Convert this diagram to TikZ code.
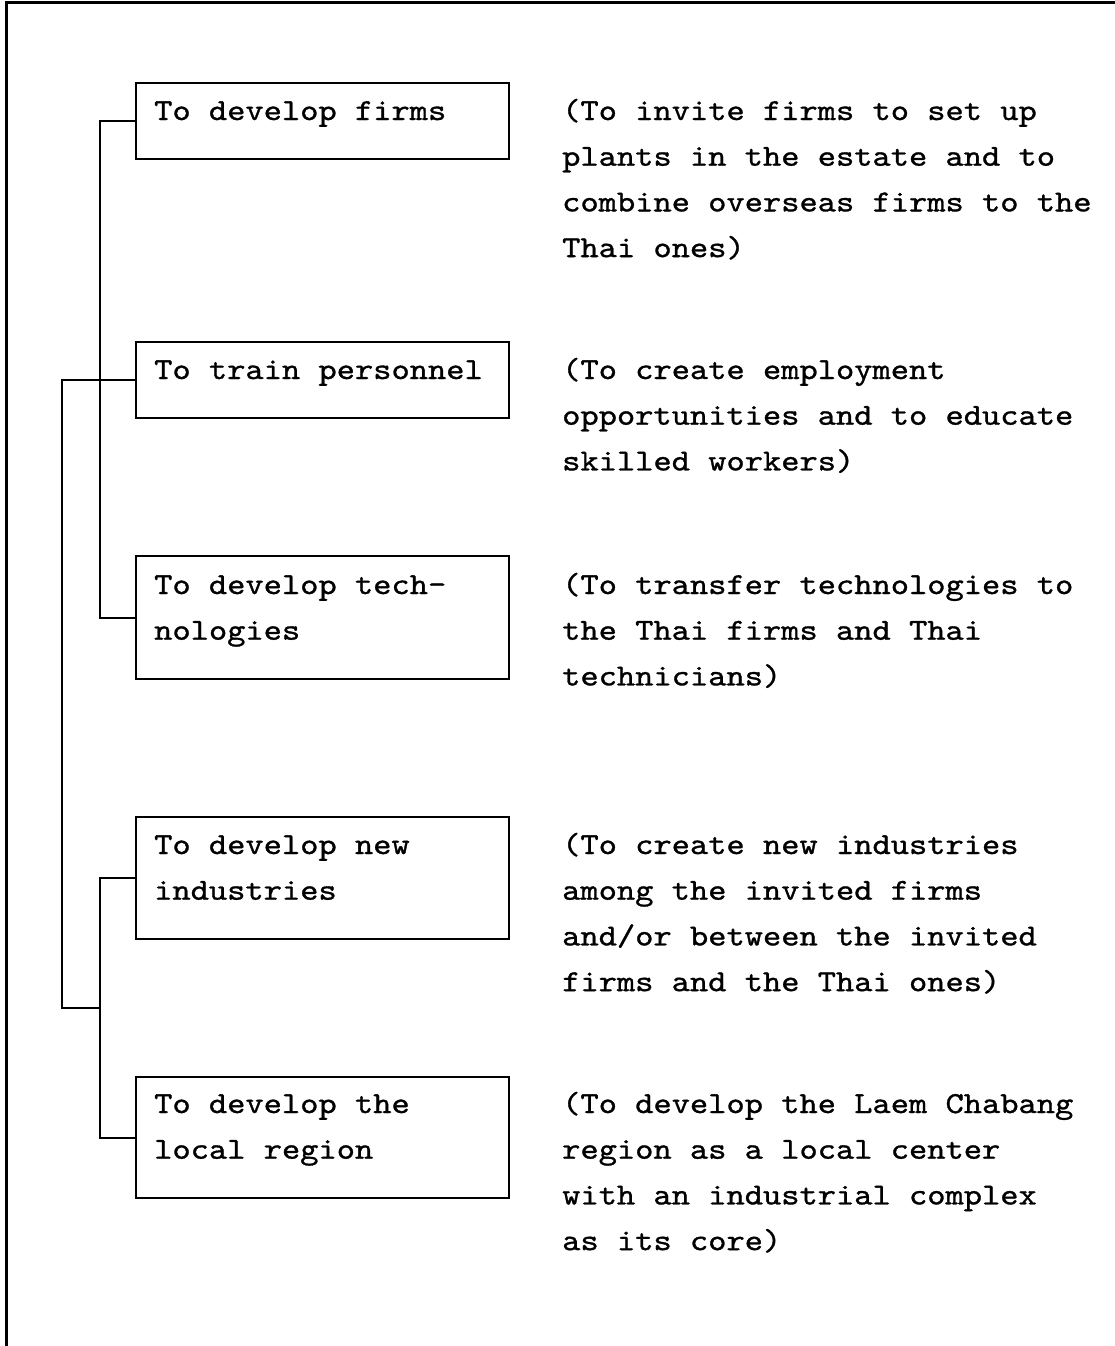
\documentclass[tikz,border=0pt]{standalone}
\usepackage{fontspec}
\newfontfamily\tw[Extension=.otf, FakeStretch=1.14, FakeBold=1.0]{lmmono10-regular}
\newcommand{\txtlines}[1]{\begin{tabular}[t]{@{}l@{}}#1\end{tabular}}
\newcommand{\typewriter}{\tw\fontsize{30.5}{45.7}\selectfont}
\begin{document}
\begin{tikzpicture}[x=1pt,y=-1pt,
  goalbox/.style={draw, line width=2.4pt, rectangle, minimum width=373pt,
    anchor=north west, inner sep=0pt},
  label/.style={anchor=base west, inner sep=0pt, font=\typewriter},
  link/.style={line width=2.2pt},
  frame/.style={line width=3pt}]
  \useasboundingbox (0,0) rectangle (1115,1346);

  % frame edges along the top and the left
  \draw[frame] (6,1346) -- (6,3) -- (1115,3);

  % goal boxes
  \node[goalbox, minimum height=76pt]  (b1) at (135,82)   {};
  \node[goalbox, minimum height=76pt]  (b2) at (135,341)  {};
  \node[goalbox, minimum height=123pt] (b3) at (135,555)  {};
  \node[goalbox, minimum height=122pt] (b4) at (135,816)  {};
  \node[goalbox, minimum height=121pt] (b5) at (135,1076) {};

  % box texts
  \node[label] (t1) at (154,120)  {To develop firms};
  \node[label] (t2) at (154,379)  {To train personnel};
  \node[label] (t3) at (154,594)  {\txtlines{To develop tech-\\nologies}};
  \node[label] (t4) at (154,854)  {\txtlines{To develop new\\industries}};
  \node[label] (t5) at (154,1113) {\txtlines{To develop the\\local region}};

  % explanations
  \node[label] (e1) at (562,120) {\txtlines{(To invite firms to set up\\plants in the estate and to\\combine overseas firms to the\\Thai ones)}};
  \node[label] (e2) at (562,379) {\txtlines{(To create employment\\opportunities and to educate\\skilled workers)}};
  \node[label] (e3) at (562,594) {\txtlines{(To transfer technologies to\\the Thai firms and Thai\\technicians)}};
  \node[label] (e4) at (562,854) {\txtlines{(To create new industries\\among the invited firms\\and/or between the invited\\firms and the Thai ones)}};
  \node[label] (e5) at (562,1113) {\txtlines{(To develop the Laem Chabang\\region as a local center\\with an industrial complex\\as its core)}};

  % bracket joint
  \coordinate (j) at (100,1008);

  % connectors
  \draw[link] (b1.west) -- ++(-35,0) |- (b3.west);
  \draw[link] (b4.west) -- ++(-35,0) |- (b5.west);
  \draw[link] (b2.west) -- ++(-73,0) |- (j);
\end{tikzpicture}
\end{document}
